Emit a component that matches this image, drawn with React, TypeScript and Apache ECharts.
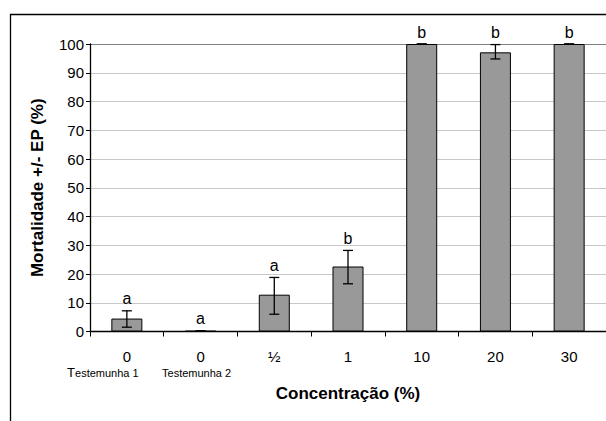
import React, { useEffect, useRef } from "react";
import * as echarts from "echarts";

const categories = ["0", "0", "½", "1", "10", "20", "30"];
const subLabels = ["Testemunha 1", "Testemunha 2", "", "", "", "", ""];
const mortality = [4.5, 0.2, 12.8, 22.6, 100, 97.1, 100];
const errLow = [1.5, 0.2, 6.0, 16.6, 100, 94.8, 100];
const errHigh = [7.2, 0.2, 18.8, 28.2, 100, 99.8, 100];
const letters = ["a", "a", "a", "b", "b", "b", "b"];
const yTicks = [0, 10, 20, 30, 40, 50, 60, 70, 80, 90, 100];

const SANS = "Liberation Sans, Arial, sans-serif";

export default function App() {
  const ref = useRef<HTMLDivElement>(null);
  useEffect(() => {
    if (!ref.current) return;
    const chart = echarts.init(ref.current, null, { renderer: "svg" });
    const gridColors = yTicks.map((v) => (v === 100 ? "#808080" : "#c8c8c8"));
    chart.setOption({
      animation: false,
      backgroundColor: "#ffffff",
      graphic: [
        {
          type: "rect",
          left: 8,
          top: 12,
          shape: { x: 0, y: 0, width: 640, height: 450 },
          style: { fill: "none", stroke: "#000", lineWidth: 1.3 },
          silent: true,
          z: -1,
        },
      ],
      grid: { left: 90, right: 0, top: 44, bottom: 89.5, containLabel: false },
      xAxis: {
        type: "category",
        data: categories,
        name: "Concentração (%)",
        nameLocation: "middle",
        nameGap: 53,
        nameTextStyle: { fontFamily: SANS, fontWeight: "bold", fontSize: 17, color: "#000" },
        axisLine: { lineStyle: { color: "#000", width: 1.3 } },
        axisTick: { show: true, length: 5, lineStyle: { color: "#000" }, alignWithLabel: false },
        axisLabel: {
          interval: 0,
          margin: 17,
          color: "#000",
          fontFamily: SANS,
          formatter: (v: string, i: number) => {
            const s = subLabels[i];
            if (!s) return `{m|${v}}`;
            if (i === 0) return `{m|${v}}\n{t|${s.charAt(0)}}{s1|${s.slice(1)}}`;
            return `{m|${v}}\n{s|${s}}`;
          },
          rich: {
            m: { fontSize: 15, fontFamily: SANS, color: "#000", lineHeight: 16 },
            t: { fontSize: 13, fontFamily: SANS, color: "#000", lineHeight: 14, verticalAlign: "bottom" },
            s1: { fontSize: 11, fontFamily: SANS, color: "#000", lineHeight: 14, verticalAlign: "bottom", padding: [0, 48, 0, 0] },
            s: { fontSize: 11, fontFamily: SANS, color: "#000", lineHeight: 14, verticalAlign: "bottom", padding: [0, 8, 0, 0] },
          },
        },
        splitLine: { show: false },
      },
      yAxis: {
        type: "value",
        min: 0,
        max: 100,
        interval: 10,
        name: "Mortalidade +/- EP (%)",
        nameLocation: "middle",
        nameGap: 44,
        nameTextStyle: { fontFamily: SANS, fontWeight: "bold", fontSize: 17, color: "#000" },
        axisLine: { show: true, lineStyle: { color: "#000", width: 1.3 } },
        axisTick: { show: true, length: 4, lineStyle: { color: "#000" } },
        axisLabel: { color: "#000", fontFamily: SANS, fontSize: 15, margin: 6 },
        splitLine: { show: true, lineStyle: { color: gridColors, width: 1 } },
      },
      series: [
        {
          type: "bar",
          data: mortality,
          barWidth: 31,
          itemStyle: { color: "#999999", borderColor: "#000", borderWidth: 1 },
          z: 2,
        },
        {
          type: "custom",
          data: categories.map((_, i) => [i, errLow[i], errHigh[i]]),
          clip: false,
          renderItem: (params: any, api: any) => {
            const x = api.value(0);
            const lo = api.coord([x, api.value(1)]);
            const hi = api.coord([x, api.value(2)]);
            const hw = 5;
            const st = { stroke: "#000", lineWidth: 1.3 };
            return {
              type: "group",
              children: [
                { type: "line", shape: { x1: lo[0], y1: lo[1], x2: hi[0], y2: hi[1] }, style: st },
                { type: "line", shape: { x1: lo[0] - hw, y1: lo[1], x2: lo[0] + hw, y2: lo[1] }, style: st },
                { type: "line", shape: { x1: hi[0] - hw, y1: hi[1], x2: hi[0] + hw, y2: hi[1] }, style: st },
                {
                  type: "text",
                  x: hi[0],
                  y: hi[1] - 4,
                  style: {
                    text: letters[params.dataIndex],
                    fill: "#000",
                    fontFamily: SANS,
                    fontSize: 16,
                    align: "center",
                    verticalAlign: "bottom",
                  },
                },
              ],
            };
          },
          z: 3,
        },
      ],
    });
    return () => chart.dispose();
  }, []);
  return (
    <div
      ref={ref}
      style={{ position: "fixed", left: 0, top: 0, width: 606, height: 421 }}
    />
  );
}
